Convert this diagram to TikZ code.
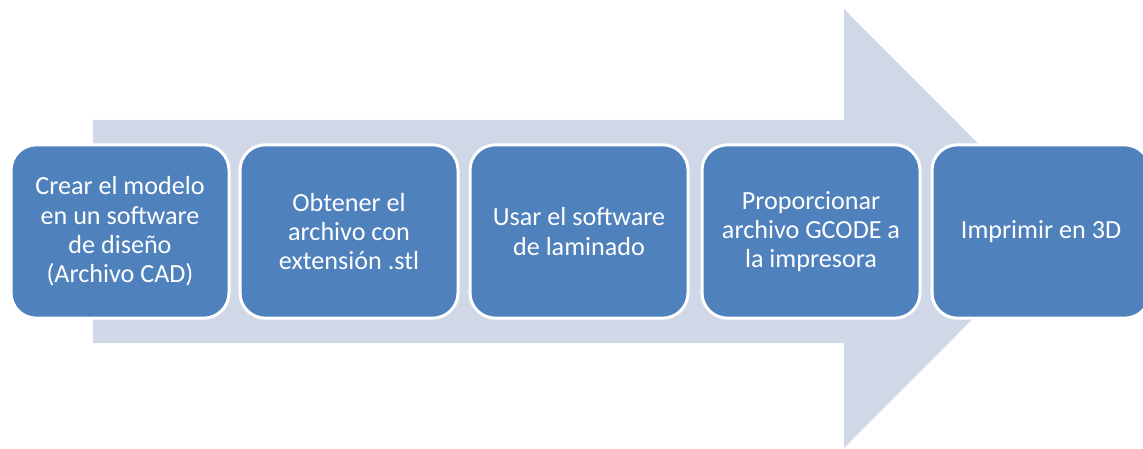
\documentclass[tikz,border=0pt]{standalone}
\usepackage{fontspec}
\setmainfont{Carlito}
\definecolor{boxblue}{HTML}{4F81BD}
\definecolor{arrowgrey}{HTML}{D0D8E8}
\tikzset{stepbox/.style={rectangle, rounded corners=19pt, fill=boxblue, draw=white,
    line width=2.25pt, text=white, inner sep=0pt, align=center,
    minimum width=163.5pt, minimum height=130pt,
    font=\fontsize{19.6}{22}\selectfont}}

\begin{document}
\begin{tikzpicture}[x=0.75pt,y=-0.75pt]
\useasboundingbox (0,0) rectangle (1143,449);
\clip (0,0) rectangle (1143,449);
\fill [arrowgrey] (93,120) -- (844,120) -- (844,9) -- (1063,228.5) -- (844,448)
    -- (844,343) -- (93,343) -- cycle;
\node [stepbox] (crear) at (120,231.5) {Crear el modelo\\en un software\\de diseño\\(Archivo CAD)};
\node [stepbox] (obtener) at (349,231.5) {Obtener el\\archivo con\\extensión .stl};
\node [stepbox] (usar) at (579,231.5) {Usar el software\\de laminado};
\node [stepbox] (gcode) at (811,231.5) {Proporcionar\\archivo GCODE a\\la impresora};
\node [stepbox] (imprimir) at (1041,231.5) {Imprimir en 3D};
\end{tikzpicture}
\end{document}
